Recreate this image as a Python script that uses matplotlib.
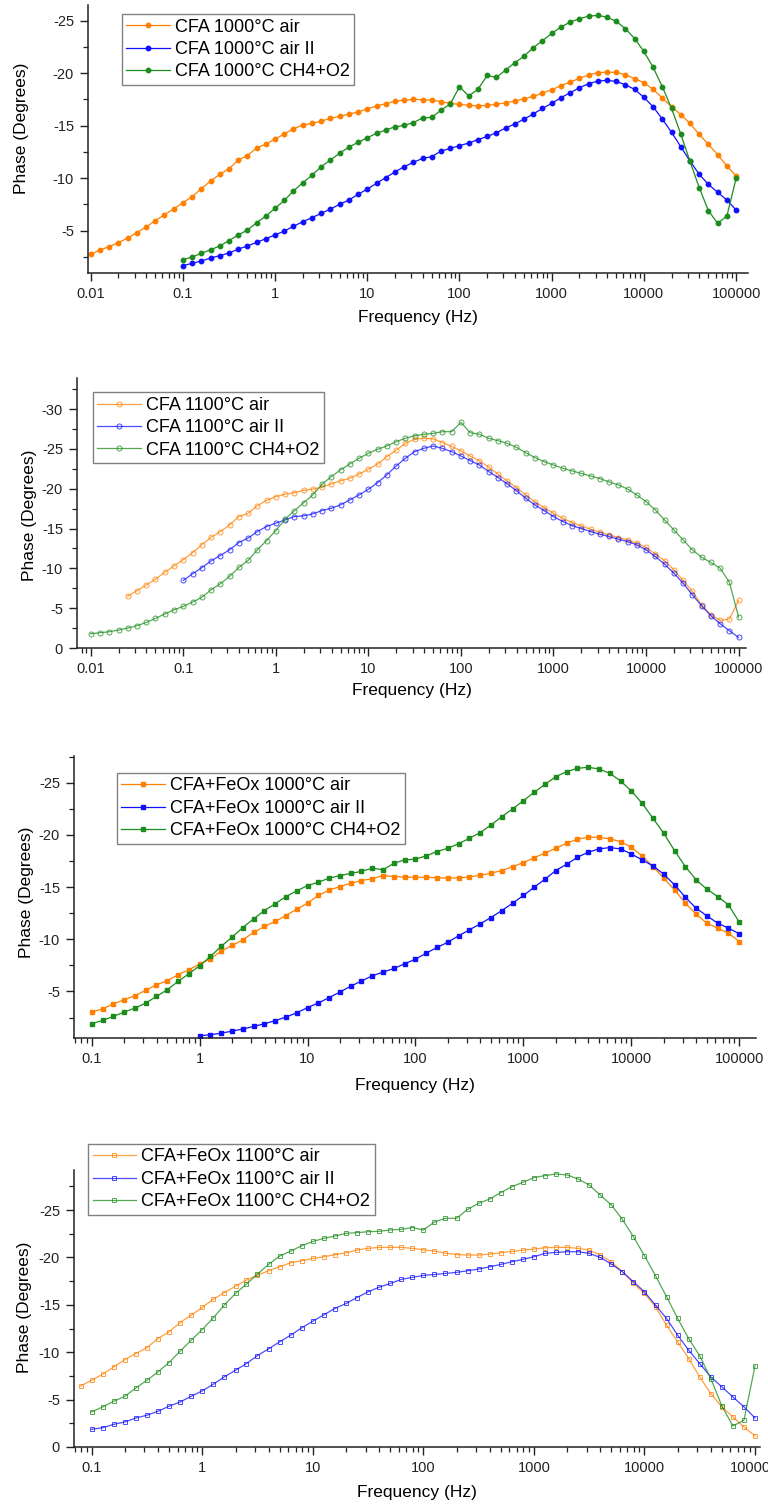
import matplotlib
matplotlib.use("Agg")
import matplotlib.pyplot as plt
from matplotlib.ticker import FixedLocator, LogLocator, MultipleLocator, FuncFormatter, NullFormatter

plt.rcParams["font.family"] = ["Liberation Sans", "DejaVu Sans"]
plt.rcParams["axes.unicode_minus"] = False

# Sweep frequencies (Hz), 10 points per decade, every series ends at 100 kHz
freq = [0.01, 0.0126, 0.0158, 0.02, 0.0251, 0.0316, 0.0398, 0.0501, 0.0631, 0.0794,
        0.1, 0.126, 0.158, 0.2, 0.251, 0.316, 0.398, 0.501, 0.631, 0.794,
        1, 1.26, 1.58, 2, 2.51, 3.16, 3.98, 5.01, 6.31, 7.94,
        10, 12.6, 15.8, 20, 25.1, 31.6, 39.8, 50.1, 63.1, 79.4,
        100, 126, 158, 200, 251, 316, 398, 501, 631, 794,
        1000, 1259, 1585, 1995, 2512, 3162, 3981, 5012, 6310, 7943,
        10000, 12589, 15849, 19953, 25119, 31623, 39811, 50119, 63096, 79433, 100000]

# Panel 1: CFA 1000°C (phase in degrees)
cfa1000_air = [-2.75, -3.16, -3.48, -3.86, -4.30, -4.81, -5.35, -5.95, -6.52, -7.06,
               -7.67, -8.24, -9.0, -9.73, -10.37, -10.90, -11.73, -12.14, -12.90, -13.25,
               -13.73, -14.21, -14.71, -15.06, -15.22, -15.44, -15.70, -15.89, -16.11, -16.30,
               -16.62, -16.87, -17.10, -17.33, -17.44, -17.51, -17.48, -17.44, -17.29, -17.13,
               -17.03, -16.94, -16.90, -16.94, -17.03, -17.19, -17.35, -17.57, -17.79, -18.11,
               -18.43, -18.81, -19.16, -19.51, -19.83, -20.05, -20.11, -20.08, -19.86, -19.48,
               -19.10, -18.46, -17.63, -16.81, -16.05, -15.22, -14.17, -13.22, -12.24, -11.16,
               -10.21]
cfa1000_air2 = [-1.67, -1.89, -2.11, -2.40, -2.62, -2.87, -3.25, -3.54, -3.89, -4.24,
                -4.59, -4.97, -5.41, -5.86, -6.24, -6.65, -7.06, -7.51, -7.92, -8.46,
                -8.97, -9.51, -10.05, -10.60, -11.10, -11.51, -11.89, -12.05, -12.59, -12.84,
                -13.10, -13.35, -13.67, -13.98, -14.33, -14.78, -15.16, -15.63, -16.11, -16.65,
                -17.13, -17.67, -18.14, -18.62, -19.0, -19.25, -19.32, -19.22, -18.90, -18.46,
                -17.70, -16.81, -15.63, -14.37, -13.0, -11.63, -10.37, -9.41, -8.65, -7.92,
                -6.97]
cfa1000_ch4 = [-2.24, -2.49, -2.84, -3.19, -3.54, -4.05, -4.59, -5.06, -5.76, -6.40,
               -7.13, -7.89, -8.78, -9.57, -10.27, -11.10, -11.73, -12.37, -12.97, -13.41,
               -13.86, -14.27, -14.59, -14.90, -15.03, -15.29, -15.75, -15.79, -16.49, -17.07,
               -18.71, -17.83, -18.46, -19.79, -19.60, -20.30, -21.0, -21.63, -22.43, -23.10,
               -23.79, -24.40, -24.87, -25.19, -25.44, -25.51, -25.35, -24.94, -24.24, -23.29,
               -22.08, -20.56, -18.71, -16.65, -14.21, -11.60, -9.10, -6.90, -5.70, -6.40,
               -9.98]

# Panel 2: CFA 1100°C
cfa1100_air = [-6.5, -7.2, -7.9, -8.65, -9.5, -10.3,
               -11.1, -11.95, -12.95, -13.9, -14.6, -15.45, -16.5, -16.9, -17.85, -18.55,
               -19.0, -19.3, -19.5, -19.8, -19.95, -20.2, -20.6, -21.0, -21.3, -21.85,
               -22.45, -23.1, -24.0, -24.85, -25.7, -26.2, -26.33, -26.25, -25.8, -25.3,
               -24.75, -24.1, -23.5, -22.7, -21.85, -20.97, -20.14, -19.22, -18.34, -17.63,
               -16.92, -16.29, -15.75, -15.33, -14.92, -14.54, -14.21, -13.87, -13.58, -13.16,
               -12.62, -11.82, -10.95, -9.82, -8.48, -7.10, -5.43, -4.18, -3.47, -3.64,
               -5.98]
cfa1100_air2 = [-8.48, -9.31, -10.07, -10.94, -11.61, -12.32, -13.24, -13.79, -14.62, -15.25,
                -15.67, -16.08, -16.50, -16.59, -16.84, -17.26, -17.55, -17.97, -18.60, -19.22,
                -19.93, -20.77, -21.73, -22.86, -23.82, -24.65, -25.07, -25.36, -25.07, -24.65,
                -24.11, -23.52, -22.98, -22.15, -21.40, -20.60, -19.76, -18.80, -17.96, -17.25,
                -16.50, -15.88, -15.37, -15.0, -14.62, -14.29, -14.0, -13.66, -13.37, -12.95,
                -12.32, -11.49, -10.53, -9.40, -8.14, -6.68, -5.30, -4.05, -3.05, -2.17,
                -1.33]
cfa1100_ch4 = [-1.79, -1.92, -2.04, -2.25, -2.50, -2.80, -3.21, -3.72, -4.26, -4.80,
               -5.22, -5.76, -6.35, -7.31, -8.06, -8.98, -10.11, -10.99, -12.32, -13.49,
               -14.75, -16.17, -17.21, -18.25, -19.22, -20.56, -21.52, -22.36, -23.11, -23.82,
               -24.45, -24.95, -25.36, -25.91, -26.33, -26.66, -26.83, -26.95, -27.16, -27.16,
               -28.33, -27.03, -26.83, -26.33, -26.03, -25.70, -25.19, -24.53, -23.90, -23.40,
               -22.98, -22.56, -22.23, -21.93, -21.60, -21.27, -20.85, -20.47, -19.97, -19.22,
               -18.38, -17.34, -16.08, -14.83, -13.58, -12.32, -11.40, -10.74, -10.03, -8.27,
               -3.88]

# Panel 3: CFA+FeOx 1000°C
fe1000_air = [-3.02, -3.34, -3.79, -4.20, -4.59, -5.10, -5.64, -6.02, -6.60, -7.07,
              -7.62, -8.13, -8.86, -9.40, -9.94, -10.65, -11.22, -11.70, -12.27, -12.88,
              -13.45, -14.2, -14.7, -15.05, -15.35, -15.62, -15.8, -16.10, -16.0, -15.95,
              -15.94, -15.94, -15.90, -15.85, -15.88, -15.97, -16.13, -16.32, -16.58, -16.96,
              -17.34, -17.82, -18.24, -18.72, -19.19, -19.58, -19.77, -19.77, -19.61, -19.35,
              -18.81, -17.98, -16.96, -15.85, -14.73, -13.45, -12.40, -11.54, -11.06, -10.58,
              -9.78]
fe1000_air2 = [-0.76, -0.85, -1.0, -1.2, -1.4, -1.65, -1.9, -2.2, -2.55, -2.95,
               -3.45, -3.9, -4.4, -4.95, -5.5, -6.0, -6.5, -6.85, -7.2, -7.65,
               -8.09, -8.67, -9.21, -9.72, -10.33, -10.90, -11.48, -12.08, -12.75, -13.45,
               -14.19, -14.98, -15.75, -16.58, -17.18, -17.85, -18.33, -18.65, -18.78, -18.65,
               -18.17, -17.60, -17.03, -16.23, -15.21, -14.03, -12.97, -12.24, -11.54, -11.06,
               -10.52]
fe1000_ch4 = [-1.91, -2.22, -2.61, -3.02, -3.40, -3.88, -4.52, -5.16, -5.96, -6.69,
              -7.46, -8.35, -9.31, -10.20, -11.12, -11.95, -12.75, -13.39, -14.09, -14.63,
              -15.14, -15.46, -15.85, -16.10, -16.30, -16.50, -16.81, -16.65, -17.28, -17.60,
              -17.67, -17.99, -18.40, -18.72, -19.15, -19.67, -20.22, -20.95, -21.75, -22.48,
              -23.28, -24.07, -24.84, -25.57, -26.05, -26.37, -26.47, -26.31, -25.89, -25.16,
              -24.20, -23.02, -21.59, -20.15, -18.49, -16.96, -15.69, -14.79, -14.09, -13.29,
              -11.63]

# Panel 4: CFA+FeOx 1100°C
fe1100_air = [-6.44,
              -7.04, -7.68, -8.45, -9.23, -9.86, -10.49, -11.44, -12.15, -13.13, -13.91,
              -14.72, -15.60, -16.27, -16.97, -17.61, -18.13, -18.59, -19.01, -19.44, -19.65,
              -19.89, -20.07, -20.28, -20.49, -20.78, -20.95, -21.06, -21.06, -21.06, -20.95,
              -20.80, -20.67, -20.45, -20.30, -20.25, -20.25, -20.35, -20.49, -20.63, -20.77,
              -20.88, -21.02, -21.06, -21.06, -20.95, -20.77, -20.25, -19.54, -18.49, -17.25,
              -16.20, -14.79, -12.85, -11.09, -9.33, -7.39, -5.63, -4.23, -3.17, -2.11,
              -1.16]
fe1100_air2 = [-1.87, -2.04, -2.39, -2.64, -3.06, -3.35, -3.77, -4.30, -4.75, -5.35,
               -5.92, -6.62, -7.39, -8.10, -8.80, -9.65, -10.35, -11.09, -11.80, -12.57,
               -13.27, -13.94, -14.61, -15.14, -15.77, -16.37, -16.85, -17.25, -17.68, -17.89,
               -18.10, -18.20, -18.31, -18.42, -18.59, -18.77, -19.01, -19.26, -19.54, -19.79,
               -20.07, -20.42, -20.53, -20.60, -20.60, -20.42, -20.0, -19.30, -18.49, -17.43,
               -16.37, -14.96, -13.56, -11.80, -10.21, -8.80, -7.39, -6.34, -5.28, -4.23,
               -3.06]
fe1100_ch4 = [-3.70, -4.23, -4.82, -5.35, -6.23, -7.04, -7.92, -8.91, -10.11, -11.27,
              -12.39, -13.63, -14.96, -16.20, -17.18, -18.24, -19.26, -20.14, -20.67, -21.23,
              -21.68, -22.01, -22.25, -22.54, -22.61, -22.71, -22.75, -22.89, -22.96, -23.15,
              -22.89, -23.73, -24.12, -24.12, -25.07, -25.70, -26.16, -26.83, -27.46, -27.92,
              -28.42, -28.63, -28.80, -28.70, -28.27, -27.64, -26.58, -25.53, -24.01, -22.18,
              -20.18, -18.06, -15.85, -13.56, -11.44, -9.61, -7.22, -4.33, -2.22, -2.82,
              -8.56]

ORANGE = "#ff8000"
BLUE = "#1010ff"
GREEN = "#1c8c1c"

W, H = 768, 1506
fig = plt.figure(figsize=(W / 100, H / 100), dpi=100)


def make_axes(left, right, top, bottom):
    # pixel box -> figure fraction
    return fig.add_axes([left / W, 1 - bottom / H, (right - left) / W, (bottom - top) / H])


# ylab = (x, y) pixel centre of the rotated y label, xlab_top = top pixel of the x label
panels = [
    dict(box=(88, 748, 5, 273), xlim=(10 ** -2.029, 10 ** 5.129), ylim=(-0.97, -26.5),
         yticks=[-25, -20, -15, -10, -5], marker="o", ms=3.2, filled=True,
         series=[(cfa1000_air, ORANGE, "CFA 1000°C air"),
                 (cfa1000_air2, BLUE, "CFA 1000°C air II"),
                 (cfa1000_ch4, GREEN, "CFA 1000°C CH4+O2")],
         legend_at=(0.051, 0.966), ylab=(22, 128), xlab_top=310),
    dict(box=(77, 746, 378, 648), xlim=(10 ** -2.148, 10 ** 5.08), ylim=(0, -33.9),
         yticks=[-30, -25, -20, -15, -10, -5, 0], marker="o", ms=3.6, filled=False,
         series=[(cfa1100_air, ORANGE, "CFA 1100°C air"),
                 (cfa1100_air2, BLUE, "CFA 1100°C air II"),
                 (cfa1100_ch4, GREEN, "CFA 1100°C CH4+O2")],
         legend_at=(0.0235, 0.947), ylab=(30, 515), xlab_top=683),
    dict(box=(74, 756, 756, 1038), xlim=(10 ** -1.164, 10 ** 5.155), ylim=(-0.54, -27.55),
         yticks=[-25, -20, -15, -10, -5], marker="s", ms=3.0, filled=True,
         series=[(fe1000_air, ORANGE, "CFA+FeOx 1000°C air"),
                 (fe1000_air2, BLUE, "CFA+FeOx 1000°C air II"),
                 (fe1000_ch4, GREEN, "CFA+FeOx 1000°C CH4+O2")],
         legend_at=(0.063, 0.940), ylab=(27, 892), xlab_top=1078),
    dict(box=(74, 760, 1170, 1447), xlim=(10 ** -1.16, 10 ** 5.045), ylim=(0, -29.22),
         yticks=[-25, -20, -15, -10, -5, 0], marker="s", ms=3.4, filled=False,
         series=[(fe1100_air, ORANGE, "CFA+FeOx 1100°C air"),
                 (fe1100_air2, BLUE, "CFA+FeOx 1100°C air II"),
                 (fe1100_ch4, GREEN, "CFA+FeOx 1100°C CH4+O2")],
         legend_at=(0.0204, 1.094), ylab=(25, 1307), xlab_top=1485),
]

for p in panels:
    left, right, top, bottom = p["box"]
    ax = make_axes(left, right, top, bottom)
    for vals, color, label in p["series"]:
        x = freq[-len(vals):]
        if p["filled"]:
            ax.plot(x, vals, color=color, lw=0.9, marker=p["marker"], ms=p["ms"],
                    mfc=color, mec=color, label=label)
        else:
            ax.plot(x, vals, color=color, lw=0.9, alpha=0.75, marker=p["marker"], ms=p["ms"],
                    mfc="none", mec=color, mew=0.7, label=label)

    ax.set_xscale("log")
    ax.set_xlim(*p["xlim"])
    ax.set_ylim(*p["ylim"])

    # Origin-like axes: only left/bottom, ticks outside
    for side in ("top", "right"):
        ax.spines[side].set_visible(False)
    for side in ("left", "bottom"):
        ax.spines[side].set_linewidth(1.1)
        ax.spines[side].set_color("#222222")
    decades = [d for d in [0.01, 0.1, 1, 10, 100, 1000, 10000, 100000]
               if p["xlim"][0] <= d <= p["xlim"][1]]
    ax.xaxis.set_major_locator(FixedLocator(decades))
    ax.xaxis.set_major_formatter(FuncFormatter(lambda v, _: f"{v:g}"))
    ax.xaxis.set_minor_locator(LogLocator(base=10, subs=range(2, 10), numticks=30))
    ax.xaxis.set_minor_formatter(NullFormatter())
    ax.yaxis.set_major_locator(FixedLocator(p["yticks"]))
    ax.yaxis.set_minor_locator(MultipleLocator(2.5))
    ax.tick_params(which="major", direction="out", length=6, width=1.0, labelsize=10.5,
                   colors="#222222", pad=4)
    ax.tick_params(which="minor", direction="out", length=3.5, width=0.9, colors="#222222")

    ax.set_ylabel("Phase (Degrees)", fontsize=12.5, va="center")
    lx, ly = p["ylab"]
    ax.yaxis.set_label_coords((lx - left) / (right - left), (bottom - ly) / (bottom - top))
    ax.set_xlabel("Frequency (Hz)", fontsize=12.5)
    ax.xaxis.set_label_coords(0.5, (bottom - p["xlab_top"]) / (bottom - top))

    leg = ax.legend(loc="upper left", bbox_to_anchor=p["legend_at"], borderaxespad=0,
                    fontsize=13, frameon=True, fancybox=False, handlelength=2.4,
                    handletextpad=0.3, labelspacing=0.3, borderpad=0.25, framealpha=1)
    leg.get_frame().set_edgecolor("#808080")
    leg.get_frame().set_linewidth(1.0)

fig.savefig("out.png", dpi=100)
